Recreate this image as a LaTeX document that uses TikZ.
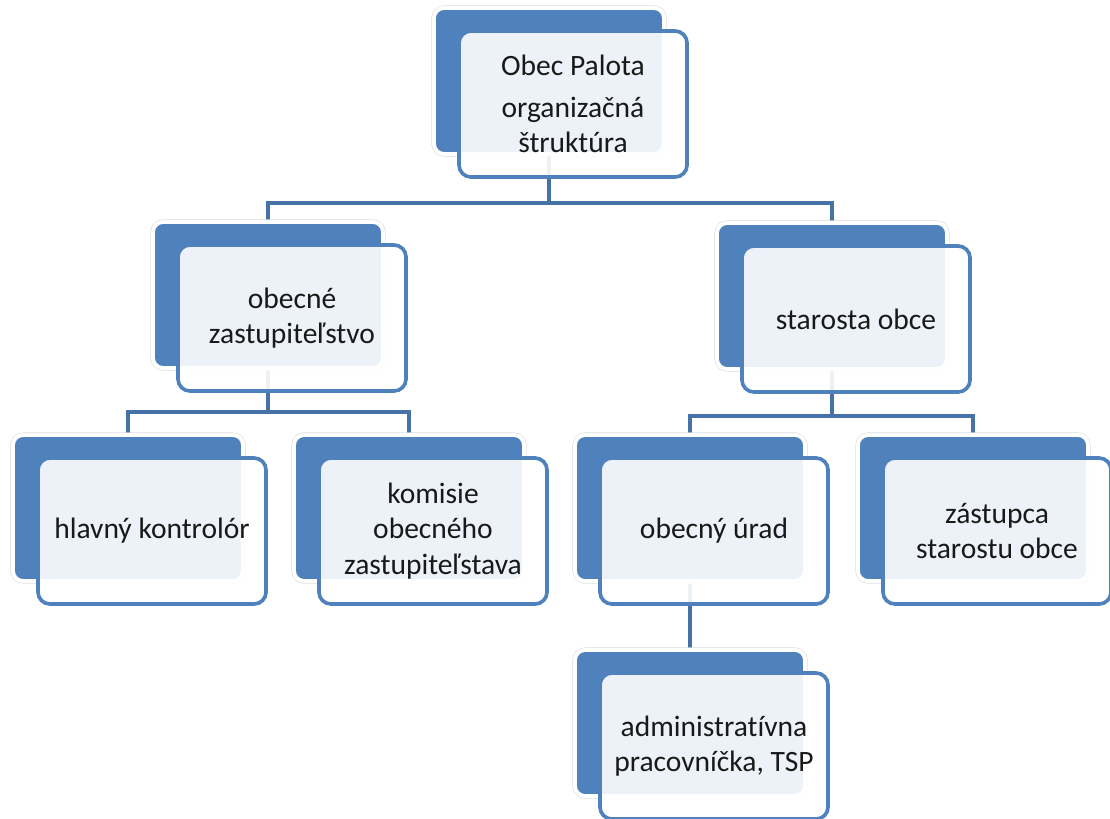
\documentclass[tikz,border=0pt]{standalone}
\usepackage{fontspec}
\setmainfont{Carlito}[Ligatures=NoCommon]
\usetikzlibrary{calc,positioning}
\pgfdeclarelayer{bg}
\pgfsetlayers{bg,main}
\definecolor{boxblue}{HTML}{4F81BD}
\definecolor{lineblue}{HTML}{4672A8}
\tikzset{
	backbox/.style={rectangle, rounded corners=0.25cm, fill=boxblue, draw=white, line width=2.8pt,
		preaction={draw=black!14, line width=3.6pt},
		minimum width=5.75cm, minimum height=3.65cm, inner sep=0pt},
	frontbox/.style={rectangle, rounded corners=0.3cm, fill=white, fill opacity=0.9, text opacity=1,
		draw=boxblue, draw opacity=1, line width=2.6pt, minimum width=5.7cm, minimum height=3.65cm,
		inner sep=0pt, align=center, text=black!90, font=\fontsize{21}{25}\selectfont},
	link/.style={draw=lineblue, line width=3pt}
}
% back box + front box with text
\newcommand\orgbox[4]{%
	\node[backbox] (#1B) at (#2,#3) {};
	\node[frontbox] (#1) at ([shift={(24,23)}]#1B.center) {#4};
}

\begin{document}
\begin{tikzpicture}[x=0.025cm, y=-0.025cm]
		%%%%% START %%%%%
		\useasboundingbox (0,0) rectangle (1110,818);
		
		\orgbox{obec}{549}{81}{Obec Palota\\[5pt]organizačná\\štruktúra}
		
		\orgbox{zast}{268}{295}{obecné\\zastupiteľstvo}
		\orgbox{star}{832}{296}{starosta obce}
		
		\orgbox{kontr}{128}{508}{hlavný kontrolór}
		\orgbox{kom}{409}{508}{komisie\\obecného\\zastupiteľstava}
		\orgbox{urad}{690}{508}{obecný úrad}
		\orgbox{zast2}{973}{508}{zástupca\\starostu obce}
		
		\orgbox{admin}{690}{723}{administratívna\\pracovníčka, TSP}
		
		\begin{pgfonlayer}{bg}
			\draw[link] (obecB.south) -- ++(0,47) -| (zastB.north);
			\draw[link] (obecB.south) -- ++(0,47) -| (starB.north);
			
			\draw[link] (zastB.south) -- ++(0,42) -| (kontrB.north);
			\draw[link] (zastB.south) -- ++(0,42) -| (komB.north);
			
			\draw[link] (starB.south) -- ++(0,45) -| (uradB.north);
			\draw[link] (starB.south) -- ++(0,45) -| (zast2B.north);
			
			\draw[link] (uradB.south) -- (adminB.north);
		\end{pgfonlayer}
		%%%%% END %%%%%
\end{tikzpicture}
\end{document}
